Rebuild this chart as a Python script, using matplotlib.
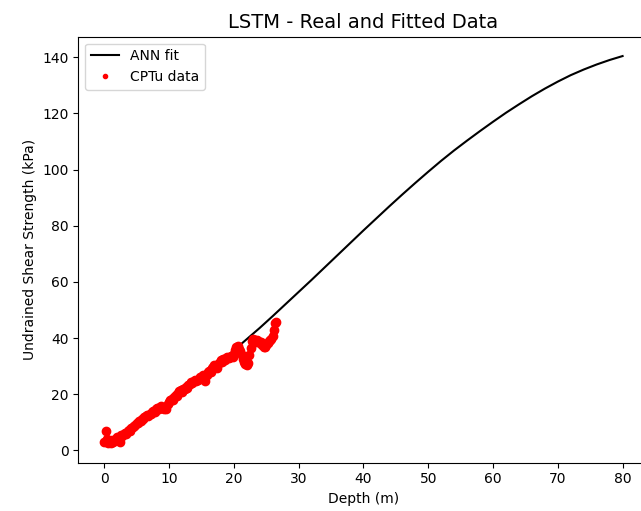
import matplotlib
matplotlib.use("Agg")
import matplotlib.pyplot as plt

# ANN fit curve
fit_depth = [0, 2, 4, 6, 8, 10, 12, 14, 16, 18, 20, 22, 24, 26, 28, 30, 32, 34, 36, 38, 40,
             42, 44, 46, 48, 50, 52, 54, 56, 58, 60, 62, 64, 66, 68, 70, 72, 74, 76, 78, 80]
fit_su = [2.8, 5.4, 8.2, 11.2, 14.3, 17.5, 20.8, 24.2, 27.8, 31.6, 35.6, 39.6, 43.6, 47.8,
          52.1, 56.4, 60.7, 65.1, 69.5, 73.9, 78.3, 82.6, 86.9, 91.1, 95.2, 99.2, 103.1,
          106.8, 110.3, 113.7, 117.0, 120.2, 123.2, 126.1, 128.8, 131.3, 133.6, 135.6,
          137.4, 139.0, 140.4]

# CPTu measurements
cptu_depth = [0.0, 0.2, 0.4, 0.6, 0.8, 1.0, 1.2, 1.4, 1.6, 1.8, 2.0, 2.2, 2.4, 2.6, 2.8,
              3.0, 3.2, 3.4, 3.6, 3.8, 4.0, 4.2, 4.4, 4.6, 4.8, 5.0, 5.2, 5.4, 5.6, 5.8,
              6.0, 6.2, 6.4, 6.6, 6.8, 7.0, 7.2, 7.4, 7.6, 7.8, 8.0, 8.2, 8.4, 8.6, 8.8,
              9.0, 9.2, 9.4, 9.6, 9.8, 10.0, 10.2, 10.4, 10.6, 10.8, 11.0, 11.2, 11.4,
              11.6, 11.8, 12.0, 12.2, 12.4, 12.6, 12.8, 13.0, 13.2, 13.4, 13.6, 13.8,
              14.0, 14.2, 14.4, 14.6, 14.8, 15.0, 15.2, 15.4, 15.6, 15.8, 16.0, 16.2,
              16.4, 16.6, 16.8, 17.0, 17.2, 17.4, 17.6, 17.8, 18.0, 18.2, 18.4, 18.6,
              18.8, 19.0, 19.2, 19.4, 19.6, 19.8, 20.0, 20.2, 20.4, 20.6, 20.8, 21.0,
              21.2, 21.4, 21.6, 21.8, 22.0, 22.2, 22.4, 22.6, 22.8, 23.0, 23.2, 23.4,
              23.6, 23.8, 24.0, 24.2, 24.4, 24.6, 24.8, 25.0, 25.2, 25.4, 25.6, 25.8,
              26.0, 26.2, 26.4, 26.5]
cptu_su = [3.0, 7.0, 4.0, 2.5, 3.5, 2.8, 3.6, 3.0, 3.8, 4.2, 4.8, 3.6, 3.0, 5.5, 5.2,
           5.8, 6.2, 6.0, 6.8, 7.2, 7.0, 7.8, 8.3, 8.6, 8.9, 9.6, 9.8, 10.4, 10.6, 11.2,
           11.0, 11.8, 12.2, 12.6, 12.3, 13.1, 13.0, 13.6, 14.0, 13.8, 14.6, 15.0, 14.7,
           15.4, 15.8, 15.2, 14.6, 15.6, 14.6, 16.6, 17.2, 17.8, 18.4, 18.1, 18.9, 19.6,
           19.3, 20.4, 21.0, 21.4, 20.8, 21.8, 22.0, 22.6, 22.2, 23.2, 23.8, 24.4, 24.0,
           24.8, 25.0, 24.6, 25.2, 25.4, 26.0, 25.6, 26.8, 26.0, 24.6, 27.0, 27.8, 28.4,
           28.0, 29.2, 29.6, 30.4, 30.0, 29.4, 30.8, 31.4, 32.2, 31.6, 32.4, 32.0, 32.8,
           33.4, 32.8, 33.2, 33.6, 33.2, 34.2, 35.8, 36.8, 37.2, 36.0, 35.4, 34.0, 32.6,
           31.5, 30.6, 30.4, 31.2, 33.8, 36.4, 38.8, 39.6, 39.2, 38.6, 39.4, 38.8, 38.2,
           38.6, 37.6, 36.8, 36.8, 37.4, 38.2, 38.8, 39.2, 39.8, 40.8, 43.0, 45.2, 45.8]

fig = plt.figure(figsize=(6.41, 5.11), dpi=100)
ax = fig.add_axes([0.1222, 0.0945, 0.8895, 0.8337])
ax.plot(fit_depth, fit_su, color="black", label="ANN fit")
ax.plot(cptu_depth, cptu_su, "r.", markersize=12, label="CPTu data")
ax.set_title("LSTM - Real and Fitted Data", fontsize=14)
ax.set_xlabel("Depth (m)")
ax.set_ylabel("Undrained Shear Strength (kPa)")
ax.legend(loc="upper left", markerscale=0.5)

fig.savefig("out.png", dpi=100)
